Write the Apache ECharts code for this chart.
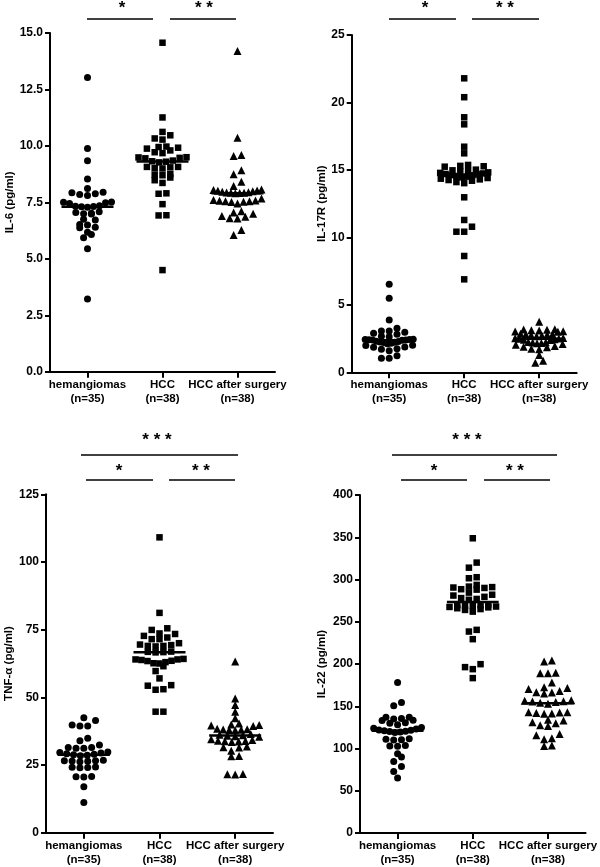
<!DOCTYPE html>
<html><head><meta charset="utf-8">
<script src="https://cdn.jsdelivr.net/npm/echarts@6/dist/echarts.min.js"></script>
<style>html,body{margin:0;padding:0;background:#fff}#c{width:600px;height:867px}</style>
</head><body><div id="c"></div>
<script>
// ---------- data ----------
const categories = ['hemangiomas\n(n=35)', 'HCC\n(n=38)', 'HCC after surgery\n(n=38)'];
const panelNames = ['IL-6 (pg/ml)', 'IL-17R (pg/ml)', 'TNF-α (pg/ml)', 'IL-22 (pg/ml)'];
const yMax = [15, 25, 125, 400];
const yInterval = [2.5, 5, 25, 50];

const il6Hem = [13.03, 9.88, 9.34, 8.53, 8.11, 7.95, 7.92, 7.88, 7.85, 7.8, 7.52, 7.5, 7.48, 7.45, 7.35, 7.33, 7.32, 7.3, 7.28, 7.08, 7.05, 7.02, 7.0, 6.98, 6.75, 6.72, 6.52, 6.5, 6.4, 6.38, 6.18, 6.08, 5.93, 5.44, 3.22];
const il6Hcc = [14.57, 11.26, 10.62, 10.47, 10.33, 10.28, 9.97, 9.95, 9.92, 9.88, 9.8, 9.72, 9.68, 9.5, 9.49, 9.47, 9.45, 9.35, 9.32, 9.3, 9.27, 9.07, 9.07, 9.05, 9.02, 9.0, 8.75, 8.73, 8.7, 8.6, 8.48, 8.36, 7.9, 7.88, 7.42, 6.93, 6.92, 4.5];
const il6Post = [14.2, 10.36, 9.6, 9.55, 8.92, 8.75, 8.41, 8.22, 8.07, 8.05, 8.03, 8.01, 7.99, 7.97, 7.95, 7.94, 7.93, 7.92, 7.91, 7.9, 7.67, 7.6, 7.58, 7.57, 7.55, 7.55, 7.53, 7.52, 7.45, 7.11, 7.05, 7.0, 6.9, 6.86, 6.8, 6.78, 6.27, 6.05];

const il17Hem = [6.52, 5.49, 3.88, 3.26, 3.06, 3.06, 2.96, 2.89, 2.82, 2.67, 2.64, 2.45, 2.44, 2.43, 2.41, 2.4, 2.39, 2.38, 2.3, 2.28, 2.25, 2.22, 2.2, 2.15, 2.12, 2.0, 1.98, 1.88, 1.85, 1.75, 1.7, 1.6, 1.23, 1.04, 1.04];
const il17Hcc = [21.79, 20.39, 18.9, 18.38, 16.72, 16.23, 15.37, 15.3, 15.27, 15.24, 15.02, 14.97, 14.92, 14.87, 14.82, 14.78, 14.74, 14.7, 14.66, 14.62, 14.6, 14.55, 14.5, 14.45, 14.4, 14.35, 14.3, 14.25, 14.2, 14.1, 14.02, 12.97, 11.29, 10.79, 10.42, 10.42, 8.62, 6.89];
const il17Post = [3.75, 3.2, 3.18, 3.15, 3.12, 3.1, 3.05, 3.02, 3.0, 2.85, 2.82, 2.8, 2.78, 2.75, 2.72, 2.68, 2.55, 2.52, 2.5, 2.48, 2.45, 2.42, 2.4, 2.25, 2.22, 2.2, 2.18, 2.15, 2.1, 2.05, 1.95, 1.9, 1.85, 1.75, 1.7, 1.28, 0.86, 0.71];

const tnfHem = [42.5, 41.4, 39.8, 39.4, 39.4, 34.9, 34.0, 32.4, 31.5, 31.2, 31.2, 31.5, 29.8, 29.6, 29.4, 29.2, 29.0, 28.8, 28.6, 28.4, 26.8, 26.6, 26.5, 26.4, 26.6, 26.2, 24.2, 24.1, 24.3, 24.0, 20.7, 20.6, 20.8, 17.0, 11.2];
const tnfHcc = [109.1, 81.2, 75.5, 74.9, 73.6, 73.4, 72.7, 72.1, 71.5, 71.5, 70.0, 69.5, 69.3, 69.0, 69.0, 68.8, 66.9, 66.8, 66.7, 66.6, 64.2, 64.0, 64.0, 63.8, 63.5, 63.4, 63.0, 62.6, 62.5, 61.5, 59.7, 57.0, 54.5, 54.3, 53.0, 52.8, 44.7, 44.7];
const tnfPost = [63.2, 49.6, 47.2, 44.7, 42.3, 40.3, 40.0, 39.8, 39.6, 39.4, 38.4, 38.2, 38.1, 38.0, 37.9, 37.8, 36.5, 36.2, 36.0, 35.8, 35.6, 35.4, 34.5, 34.2, 34.0, 33.9, 33.8, 33.7, 33.5, 31.8, 31.6, 31.5, 30.3, 28.3, 28.2, 21.7, 21.6, 21.5];

const il22Hem = [178.1, 154.4, 150.5, 137.1, 137.1, 135.5, 135, 133.5, 133, 130.5, 130, 128, 125, 124, 123, 122, 121.5, 121, 120.5, 120, 119.5, 119, 111.5, 111, 110.5, 110, 103.5, 103, 102.8, 93.8, 89.8, 84.7, 78.8, 72.8, 65.0];
const il22Hcc = [348.8, 320, 314, 302.7, 301.5, 293.6, 291.6, 290, 288.5, 284.5, 288, 290.5, 291, 282, 281, 279.5, 278, 277, 276, 270.5, 270, 269.5, 269, 268, 267, 268.7, 266, 264, 262, 265, 267.5, 240.4, 238.4, 229.4, 199.8, 196.3, 193.9, 183.3];
const il22Post = [204.1, 202.9, 189.5, 189.2, 189.0, 178.1, 172.6, 170.5, 168, 166.2, 165, 166.5, 171.5, 157, 156.5, 156, 155.5, 155, 154, 153, 142.5, 142, 141.5, 141, 142.8, 143, 134, 133, 131, 130, 127.5, 126.5, 117.2, 115.6, 112, 111, 103.5, 103.0];

const panelData = [
  [il6Hem, il6Hcc, il6Post],
  [il17Hem, il17Hcc, il17Post],
  [tnfHem, tnfHcc, tnfPost],
  [il22Hem, il22Hcc, il22Post]
];

// ---------- layout / style ----------
const FONT = '"Liberation Sans", Arial, sans-serif';
const grids = [
  {left: 50, top: 33, width: 225, height: 338.7},
  {left: 351.7, top: 35, width: 225, height: 337.3},
  {left: 46, top: 494.3, width: 227, height: 338.4},
  {left: 360, top: 495, width: 226.7, height: 338.3}
];
const nameGaps = [33, 23, 24, 32];
const symbols = ['circle', 'rect', 'triangle'];
const symSizes = [7, 6.5, 8];

function median(a) {
  const s = a.slice().sort((x, y) => x - y);
  const n = s.length;
  return n % 2 ? s[(n - 1) / 2] : (s[n / 2 - 1] + s[n / 2]) / 2;
}
// beeswarm-like layout (rows of close values spread horizontally, lowest in centre)
function swarm(values, center, pxY, pxX) {
  const thr = 5.5 / pxY;
  const sorted = values.slice().sort((a, b) => a - b);
  const out = [];
  let i = 0;
  while (i < sorted.length) {
    let j = i;
    while (j + 1 < sorted.length && sorted[j + 1] - sorted[i] <= thr) j++;
    const row = sorted.slice(i, j + 1);
    const k = row.length;
    const sp = k > 1 ? Math.min(7.8, 48 / (k - 1)) : 0;
    const slots = [];
    for (let s = 0; s < k; s++) slots.push((s - (k - 1) / 2) * sp);
    slots.sort((a, b) => Math.abs(a) - Math.abs(b) || a - b);
    row.forEach((v, idx) => out.push([center + slots[idx] / pxX, v]));
    i = j + 1;
  }
  return out;
}

const option = {
  backgroundColor: '#fff',
  animation: false,
  grid: grids.map(g => Object.assign({containLabel: false}, g)),
  xAxis: [],
  yAxis: [],
  series: [],
  graphic: []
};

grids.forEach((g, p) => {
  option.xAxis.push({
    gridIndex: p, type: 'category', data: categories, boundaryGap: true,
    axisLine: {show: true, onZero: false, lineStyle: {color: '#000', width: 2}},
    axisTick: {show: true, alignWithLabel: true, length: 6, lineStyle: {color: '#000', width: 2}},
    axisLabel: {interval: 0, fontSize: 11.5, fontWeight: 'bold', color: '#000', fontFamily: FONT, lineHeight: 14, margin: 6},
    splitLine: {show: false}
  });
  option.xAxis.push({gridIndex: p, type: 'value', min: 0, max: 3, show: false});
  option.yAxis.push({
    gridIndex: p, type: 'value', min: 0, max: yMax[p], interval: yInterval[p],
    name: panelNames[p], nameLocation: 'middle', nameGap: nameGaps[p],
    nameTextStyle: {fontSize: 11.5, fontWeight: 'bold', color: '#000', fontFamily: FONT},
    axisLine: {show: true, onZero: false, lineStyle: {color: '#000', width: 2}},
    axisTick: {show: true, length: 5, lineStyle: {color: '#000', width: 2}},
    axisLabel: {fontSize: 12, fontWeight: 'bold', color: '#000', fontFamily: FONT, margin: 7,
      formatter: p === 0 ? (v => v.toFixed(1)) : (v => String(v))},
    splitLine: {show: false}
  });
  const pxY = g.height / yMax[p];
  const pxX = g.width / 3;
  panelData[p].forEach((vals, c) => {
    const center = c + 0.5;
    option.series.push({
      type: 'scatter', xAxisIndex: 2 * p + 1, yAxisIndex: p,
      symbol: symbols[c], symbolSize: symSizes[c],
      itemStyle: {color: '#000', opacity: 1},
      emphasis: {disabled: true},
      data: swarm(vals, center, pxY, pxX), z: 2
    });
    const m = median(vals);
    const hw = 26 / pxX;
    option.series.push({
      type: 'line', xAxisIndex: 2 * p + 1, yAxisIndex: p,
      symbol: 'none', lineStyle: {color: '#000', width: 2.5},
      data: [[center - hw, m], [center + hw, m]], z: 3, silent: true
    });
  });
});

// significance annotations
const sigLines = [
  [87, 19, 153, 19], [170, 19, 236, 19],
  [389, 19, 456, 19], [472, 19, 539, 19],
  [81, 455, 238, 455], [86, 480, 153, 480], [169, 480, 235, 480],
  [392, 455, 557, 455], [401, 480, 467, 480], [484, 480, 550, 480]
];
const sigTexts = [
  ['*', 122, 8], ['* *', 204, 8],
  ['* * *', 157, 440], ['*', 119, 471], ['* *', 201, 471],
  ['*', 425, 8], ['* *', 505, 8],
  ['* * *', 467, 440], ['*', 434, 471], ['* *', 515, 471]
];
sigLines.forEach(l => option.graphic.push({
  type: 'line', shape: {x1: l[0], y1: l[1], x2: l[2], y2: l[3]},
  style: {stroke: '#000', lineWidth: 1.5}
}));
sigTexts.forEach(t => option.graphic.push({
  type: 'text', x: t[1], y: t[2],
  style: {text: t[0], fill: '#000', font: 'bold 17px ' + FONT, textAlign: 'center', textVerticalAlign: 'middle'}
}));

const chart = echarts.init(document.getElementById('c'), null, {renderer: 'canvas'});
chart.setOption(option);
</script>
</body></html>
